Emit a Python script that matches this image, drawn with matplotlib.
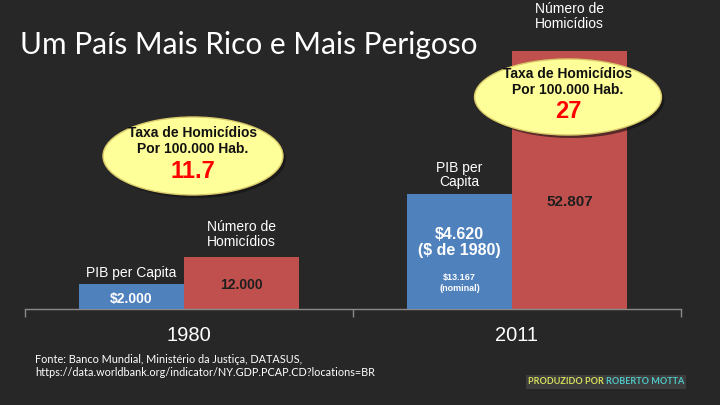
import numpy as np
import matplotlib
matplotlib.use("Agg")
import matplotlib.pyplot as plt
from matplotlib.patches import Ellipse

# dados
anos = ["1980", "2011"]
pib_real = [2000, 4620]
pib_titulo = ["PIB per Capita", "PIB per\nCapita"]
pib_rotulo = ["$2.000", "$4.620\n($ de 1980)"]
pib_nominal = ["", "$13.167\n(nominal)"]
homicidios = [12000, 52807]
homicidios_rotulo = ["12.000", "52.807"]
taxa = ["11.7", "27"]

# cores
azul = "#4F81BD"
vermelho = "#C0504D"
fundo = "#272727"

plt.rcParams["font.family"] = ["Liberation Sans", "DejaVu Sans"]

fig = plt.figure(figsize=(7.2, 4.05), dpi=100)
fig.patch.set_facecolor(fundo)

# eixo principal (homicidios) e eixo gemeo (PIB)
ax = fig.add_axes([25 / 720, 96 / 405, 656 / 720, 269 / 405])
ax2 = ax.twinx()
for a in (ax, ax2):
    a.set_facecolor("none")
    for s in a.spines.values():
        s.set_visible(False)
    a.set_yticks([])
ax.patch.set_visible(False)

base_verm = 1699
base_azul = 1272
ax.set_ylim(base_verm, 54987)
ax2.set_ylim(base_azul, 9103)
ax.set_xlim(0, 2)

x = np.arange(len(anos))
ax.bar(x + 0.485, np.array(homicidios) - base_verm, width=0.35, bottom=base_verm,
       align="edge", color=vermelho, zorder=2)
ax2.bar(x + 0.165, np.array(pib_real) - base_azul, width=0.32, bottom=base_azul,
        align="edge", color=azul, zorder=2)

# linha de base e ticks
ax.spines["bottom"].set_visible(True)
ax.spines["bottom"].set_color("#8a8a8a")
ax.spines["bottom"].set_linewidth(1.0)
ax.set_xticks([0, 1, 2], ["", "", ""])
ax.tick_params(axis="x", which="major", length=6, color="#8a8a8a", width=1.0)
ax.set_xticks(x + 0.5, anos, minor=True)
ax.tick_params(axis="x", which="minor", length=0, pad=12, labelsize=14.5, labelcolor="white")

# rotulos PIB (deslocamentos em pixels)
tit_off = [4, 5]
val_off = [-8, -33]
for i in range(len(anos)):
    cx = i + 0.165 + 0.16
    ax2.annotate(pib_titulo[i], (cx, pib_real[i]), xytext=(0, tit_off[i]), textcoords="offset pixels",
                 ha="center", va="bottom", color="white", fontsize=10, linespacing=1.0)
    ax2.annotate(pib_rotulo[i], (cx, pib_real[i]), xytext=(0, val_off[i]), textcoords="offset pixels",
                 ha="center", va="top", color="white", fontsize=[10, 11.5][i], fontweight="bold",
                 parse_math=False, linespacing=1.05)
    if pib_nominal[i]:
        ax2.annotate(pib_nominal[i], (cx, base_azul), xytext=(0, 26), textcoords="offset pixels",
                     ha="center", va="center", color="white", fontsize=6.5, fontweight="bold",
                     parse_math=False)

# rotulos homicidios
tit_off_h = [8, 20]
val_off_h = [-28, -151]
for i in range(len(anos)):
    cx = i + 0.485 + 0.175
    ax.annotate("Número de\nHomicídios", (cx, homicidios[i]), xytext=(0, tit_off_h[i]), textcoords="offset pixels",
                ha="center", va="bottom", color="white", fontsize=10, linespacing=1.1)
    ax.annotate(homicidios_rotulo[i], (cx, homicidios[i]), xytext=(0, val_off_h[i]), textcoords="offset pixels",
                ha="center", va="center", color="#1e1e1e", fontsize=[10, 11][i], fontweight="bold")

# camada de sobreposicao em pixels
ov = fig.add_axes([0, 0, 1, 1])
ov.set_xlim(0, 720)
ov.set_ylim(405, 0)
ov.axis("off")
ov.patch.set_visible(False)

# baloes com taxa de homicidios
centros = [(193, 156), (568, 97)]
tamanhos = [(180, 78), (187, 76)]
for (ex, ey), (ew, eh), t in zip(centros, tamanhos, taxa):
    ov.add_patch(Ellipse((ex + 3, ey + 3), ew, eh, facecolor="#111111", alpha=0.6, edgecolor="none", zorder=5))
    ov.add_patch(Ellipse((ex, ey), ew, eh, facecolor="#FFFF99", edgecolor="#d9c96a", linewidth=1.0, zorder=6))
    ov.text(ex, ey - 23, "Taxa de Homicídios", ha="center", va="center", fontsize=10, fontweight="bold",
            color="#111111", zorder=7)
    ov.text(ex, ey - 7, "Por 100.000 Hab.", ha="center", va="center", fontsize=10, fontweight="bold",
            color="#111111", zorder=7)
    ov.text(ex, ey + 15, t, ha="center", va="center", fontsize=17, fontweight="bold", color="#FF0000", zorder=7)

# titulo
ov.text(20, 45, "Um País Mais Rico e Mais Perigoso", ha="left", va="center", fontsize=21.5,
        color="white", family=["Lato", "DejaVu Sans"])

# fonte
ov.text(35, 366, "Fonte: Banco Mundial, Ministério da Justiça, DATASUS,\n"
        "https://data.worldbank.org/indicator/NY.GDP.PCAP.CD?locations=BR",
        ha="left", va="center", fontsize=7.8, color="white", family=["Lato", "DejaVu Sans"], linespacing=1.3)

# assinatura
t1 = ov.text(528, 382, "PRODUZIDO POR ", ha="left", va="center", fontsize=6.5, fontweight="bold",
             color="#d8e05a", family=["Lato", "DejaVu Sans"],
             bbox=dict(facecolor="#3c3c3c", edgecolor="none", pad=1.5))
ov.annotate("ROBERTO MOTTA", xy=(1, 0.5), xycoords=t1, ha="left", va="center", fontsize=6.5,
            fontweight="bold", color="#50c8c8", family=["Lato", "DejaVu Sans"],
            bbox=dict(facecolor="#3c3c3c", edgecolor="none", pad=1.5))

fig.savefig("out.png", dpi=100, facecolor=fig.get_facecolor())
